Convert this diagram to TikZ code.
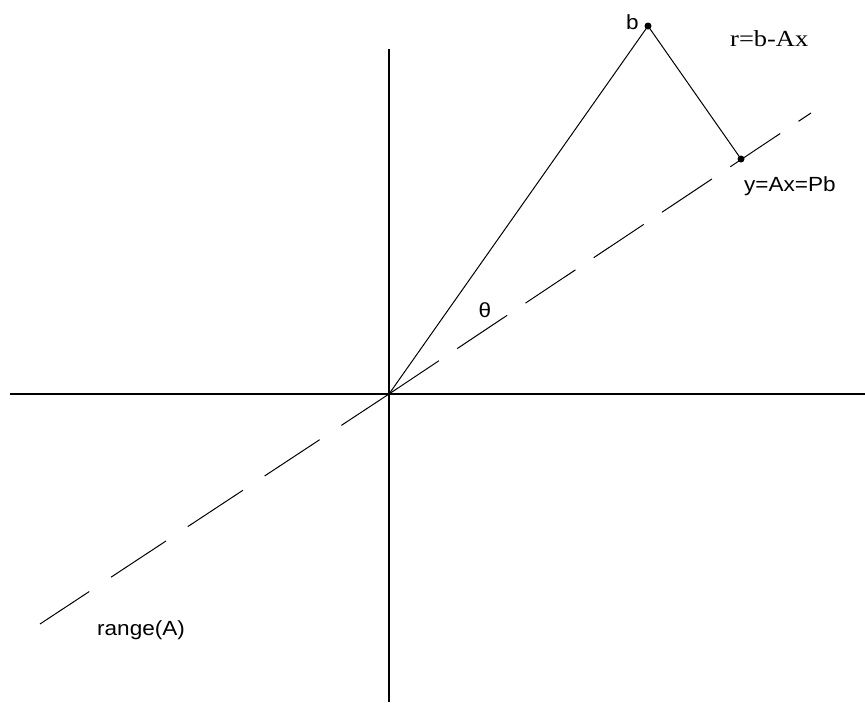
\documentclass[tikz,border=0pt]{standalone}
\usepackage{fontspec}
\setmainfont[FakeStretch=1.1]{Liberation Sans}
\newfontfamily\serifface[FakeStretch=1.15]{Liberation Serif}
\begin{document}
\begin{tikzpicture}[x=1pt,y=-1pt,
  axis/.style={line width=1.6pt},
  thin/.style={line width=1pt},
  rangeline/.style={line width=1pt},
  lbl/.style={inner sep=0pt,anchor=base west,font=\fontsize{20.5}{24}\selectfont},
  dotmark/.style={circle,fill=black,inner sep=0pt,minimum size=7pt}]
\useasboundingbox (0,0) rectangle (865,702);
% axes
\coordinate (O) at (389,394);
\coordinate (xl) at (10,394);
\coordinate (xr) at (865,394);
\coordinate (yt) at (389,49);
\coordinate (yb) at (389,702);
\draw[axis] (xl) -- (xr);
\draw[axis] (yt) -- (yb);
% range(A) dashed line
\coordinate (rU) at (811,113);
\coordinate (rL) at (40,624);
\draw[rangeline,dash pattern=on 60pt off 22pt] (O) -- (rU);
\draw[rangeline,dash pattern=on 66pt off 26pt,dash phase=9pt] (O) -- (rL);
% vectors
\node[dotmark] (B) at (648,26) {};
\node[dotmark] (Y) at (741,159) {};
\draw[thin] (O) -- (B.center) -- (Y.center);
% labels
\node[lbl] (lb) at (626,29) {b};
\node[lbl,font=\serifface\fontsize{23}{27}\selectfont] (lr) at (730,46.5) {r=b-Ax};
\node[lbl] (ly) at (744,191) {y=Ax=Pb};
\node[inner sep=0pt,font=\fontsize{20.5}{24}\selectfont] (lt) at (485,310) {θ};
\node[lbl] (la) at (97,635) {range(A)};
\end{tikzpicture}
\end{document}
